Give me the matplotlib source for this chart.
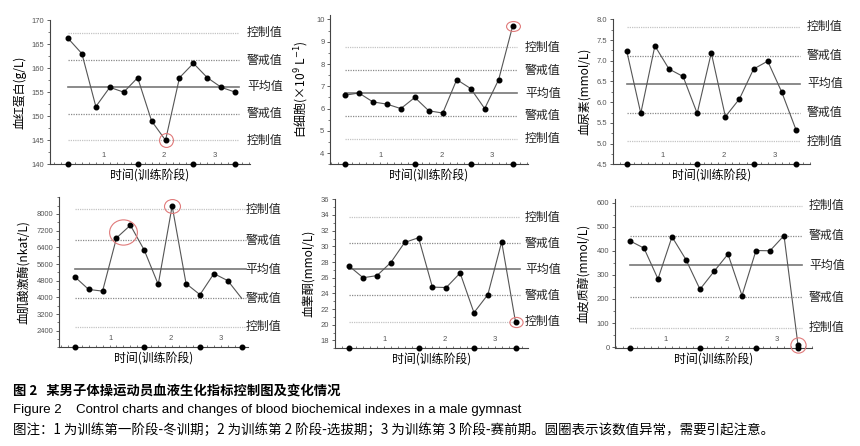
import matplotlib
matplotlib.use("Agg")
import matplotlib.pyplot as plt
import numpy as np
from matplotlib.path import Path
from matplotlib.ticker import MultipleLocator, FormatStrFormatter

plt.rcParams['font.family'] = ['Noto Sans CJK SC', 'DejaVu Sans']

# values for the 13 test points of each index
hb = [166.2, 163, 152, 156, 155, 158, 149, 145, 158, 161, 158, 156, 155]
wbc = [6.6, 6.7, 6.3, 6.2, 6.0, 6.5, 5.9, 5.8, 7.3, 6.9, 6.0, 7.3, 9.7]
urea = [7.24, 5.73, 7.36, 6.80, 6.62, 5.73, 7.19, 5.65, 6.08, 6.80, 6.99, 6.24, 5.34]
ck = [4990, 4380, 4300, 6850, 7460, 6260, 4620, 8380, 4660, 4130, 5140, 4800, 3950]
testo = [27.47, 26.0, 26.27, 27.94, 30.5, 31.1, 24.8, 24.75, 26.6, 21.54, 23.84, 30.58, 20.34]
cort = [441, 411, 283, 458, 363, 240, 314, 386, 214, 401, 400, 463, 8]

# upper control, upper warning, mean, lower warning, lower control
hb_lim = [167.4, 161.6, 156.1, 150.5, 145.0]
wbc_lim = [8.75, 7.71, 6.70, 5.67, 4.64]
urea_lim = [7.82, 7.12, 6.44, 5.75, 5.06]
ck_lim = [8224, 6736, 5344, 3968, 2592]
testo_lim = [33.7, 30.4, 27.08, 23.76, 20.38]
cort_lim = [588, 462, 339, 208, 81]
lim_names = ["控制值", "警戒值", "平均值", "警戒值", "控制值"]

ylabels = ["血红蛋白(g/L)", "白细胞(×10$^9$ L$^{-1}$)", "血尿素(mmol/L)",
           "血肌酸激酶(nkat/L)", "血睾酮(mmol/L)", "血皮质醇(mmol/L)"]

# y tick ranges (first, last, step)
yticks = [(140, 170, 5), (4, 10, 1), (4.5, 8.0, 0.5), (2400, 8000, 800), (18, 36, 2), (0, 600, 100)]
yfmt = ["%d", "%d", "%.1f", "%d", "%d", "%d"]

stage_idx = [0, 5, 9, 12]          # boundaries of the training stages
stage_names = ["1", "2", "3"]
stage_pos = [2.55, 6.9, 10.5]

# abnormal points: (panel, indices averaged for the circle centre)
abnormal = [(0, [7]), (1, [12]), (3, [3, 4]), (3, [7]), (4, [12]), (5, [12])]
circle_size = [10, 10, 20, 11.5, 9.5, 11]
circle_aspect = [1.0, 1.4, 1.1, 1.15, 1.3, 1.0]

series = [hb, wbc, urea, ck, testo, cort]
limits = [hb_lim, wbc_lim, urea_lim, ck_lim, testo_lim, cort_lim]

# layout in pixels: left, top, right, bottom
W, H = 860, 446
boxes = [(50, 20, 250, 164.3), (330, 15, 528, 164.3), (613, 19.3, 810, 164.3),
         (59, 197.3, 248, 347.4), (335, 199.3, 528, 348.3), (615, 199, 812, 348.3)]
ylims = [(140, 170), (3.5, 10.2), (4.5, 8.0), (1600, 8800), (17, 36), (-5, 615)]
xlims = [(-1.29, 13.06), (-1.07, 13.1), (-0.97, 13.0), (-1.13, 12.45), (-1.03, 12.9), (-1.07, 13.0)]

fig = plt.figure(figsize=(W / 100, H / 100), dpi=100)

axes = []
for i in range(6):
    l, t, r, b = boxes[i]
    ax = fig.add_axes([l / W, 1 - b / H, (r - l) / W, (b - t) / H])
    axes.append(ax)
    y = series[i]
    x = np.arange(len(y))

    ax.set_xlim(*xlims[i])
    ax.set_ylim(*ylims[i])

    lo, hi = ylims[i]
    for k, v in enumerate(limits[i]):
        if k == 2:
            ax.plot([0, 12.3], [v, v], color="#777777", lw=1.2, zorder=1)
        elif k in (1, 3):
            ax.plot([0, 12.3], [v, v], color="#8a8a8a", lw=0.9, ls=(0, (1, 1)), zorder=1)
        else:
            ax.plot([0, 12.3], [v, v], color="#c4c4c4", lw=0.9, ls=(0, (1, 0.8)), zorder=1)
        ax.text(0.985, v, lim_names[k], transform=ax.get_yaxis_transform(),
                ha="left", va="center", fontsize=8.6, color="#222222", clip_on=False)

    if i == 3:
        mk = list(range(12))
    else:
        mk = None
    ax.plot(x, y, color="#555555", lw=0.8, marker="o", markersize=3.3,
            markerfacecolor="black", markeredgecolor="black", markevery=mk, zorder=3)

    ax.plot(stage_idx, [lo] * len(stage_idx), ls="none", marker="o", markersize=3.3,
            color="black", clip_on=False, zorder=4)
    for n, p in zip(stage_names, stage_pos):
        ax.text(p, lo + (hi - lo) * 0.06, n, ha="center", va="center",
                fontsize=5.5, color="#555555", family="Liberation Sans")

    ax.spines["top"].set_visible(False)
    ax.spines["right"].set_visible(False)
    for s in ("left", "bottom"):
        ax.spines[s].set_color("#444444")
        ax.spines[s].set_linewidth(0.8)

    t0, t1, st = yticks[i]
    ax.set_yticks(np.arange(t0, t1 + st / 2, st))
    ax.yaxis.set_minor_locator(MultipleLocator(st / 2))
    ax.yaxis.set_major_formatter(FormatStrFormatter(yfmt[i]))
    ax.xaxis.set_major_locator(MultipleLocator(1))
    ax.xaxis.set_minor_locator(MultipleLocator(0.5))
    ax.set_xticklabels([])
    ax.tick_params(axis="y", which="major", length=2.5, width=0.6, color="#444444",
                   labelsize=5.5, labelcolor="#555555", pad=1.5)
    ax.tick_params(axis="y", which="minor", length=1.5, width=0.5, color="#444444")
    ax.tick_params(axis="x", which="both", direction="in", length=1.6, width=0.5,
                   color="#444444")
    for lab in ax.get_yticklabels():
        lab.set_family("Liberation Sans")

    ax.set_xlabel("时间(训练阶段)", fontsize=8.6, labelpad=0)
    ax.set_ylabel(ylabels[i], fontsize=8.6, labelpad=4)

# red circles around abnormal values
unit = Path.unit_circle()
for (pi, idx), sz, asp in zip(abnormal, circle_size, circle_aspect):
    ax = axes[pi]
    cx = np.mean(idx)
    cy = np.mean([series[pi][j] for j in idx])
    ell = Path(unit.vertices * [asp, 1.0], unit.codes)
    ax.plot([cx], [cy], ls="none", marker=ell, markersize=sz, markerfacecolor="none",
            markeredgecolor="#e07a7a", markeredgewidth=0.8, clip_on=False, zorder=5)

fig.text(13 / W, 1 - 391 / H, "图 2   某男子体操运动员血液生化指标控制图及变化情况",
         fontsize=9.6, fontweight="bold", va="center", ha="left")
fig.text(13 / W, 1 - 410 / H,
         "Figure 2    Control charts and changes of blood biochemical indexes in a male gymnast",
         fontsize=9.5, family="Liberation Sans", va="center", ha="left")
fig.text(13 / W, 1 - 430 / H,
         "图注：1 为训练第一阶段-冬训期；2 为训练第 2 阶段-选拔期；3 为训练第 3 阶段-赛前期。圆圈表示该数值异常，需要引起注意。",
         fontsize=9.7, va="center", ha="left")

fig.savefig("out.png", dpi=100)
